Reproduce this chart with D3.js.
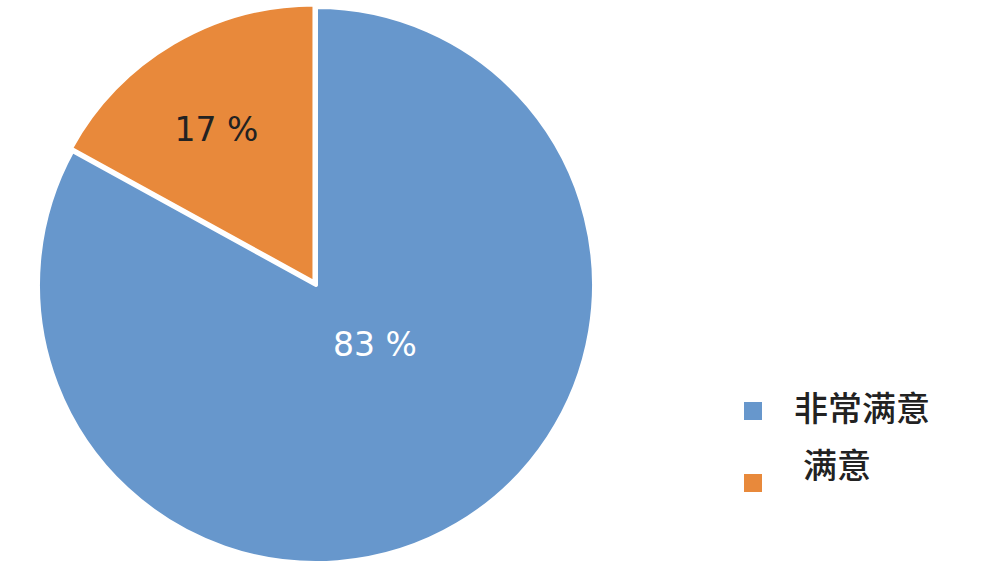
<!DOCTYPE html>
<html>
<head>
<meta charset="utf-8">
<script src="https://cdn.jsdelivr.net/npm/d3@7"></script>
<style>
    html, body { margin: 0; padding: 0; background: #fff; }
    svg { display: block; }
</style>
</head>
<body>
<div id="chart"></div>
<script>
// data
const categories = ["非常满意", "满意"];
const values = [83, 17];
const labels = ["83 %", "17 %"];
const colors = ["#6797CC", "#E8893B"];

const width = 994,
    height = 576;
const cx = 316,
    cy = 285,
    radius = 278;

let svg = d3.select("#chart")
    .append("svg")
    .attr("width", width)
    .attr("height", height);

let pie = d3.pie()
    .value(d => d.value)
    .sort(null);

let arcs = pie(categories.map((c, i) => ({ name: c, value: values[i], label: labels[i], color: colors[i] })));

let arc = d3.arc()
    .innerRadius(0)
    .outerRadius(radius);

let g = svg.append("g")
    .attr("transform", `translate(${cx},${cy})`);

// the small slice is pulled out a bit
function offset(d, dist) {
    let a = (d.startAngle + d.endAngle) / 2;
    return [Math.sin(a) * dist, -Math.cos(a) * dist];
}

g.selectAll(".slice")
    .data(arcs)
    .enter()
    .append("path")
    .attr("class", "slice")
    .attr("d", arc)
    .attr("transform", (d, i) => {
        let o = offset(d, i === 1 ? 3 : 0);
        return `translate(${o[0]},${o[1]})`;
    })
    .style("fill", d => d.data.color)
    .style("stroke", "#fff")
    .style("stroke-width", 4)
    .style("stroke-linejoin", "round");

// label placement: [radius factor, angle (deg) or null for mid angle]
const labelPos = [[0.3, 135], [0.665, 327.4]];

g.selectAll(".lbl")
    .data(arcs)
    .enter()
    .append("text")
    .attr("class", "lbl")
    .attr("transform", (d, i) => {
        let p = labelPos[i];
        let a = p[1] === null ? (d.startAngle + d.endAngle) / 2 : p[1] * Math.PI / 180;
        let r = radius * p[0];
        return `translate(${Math.sin(a) * r},${-Math.cos(a) * r})`;
    })
    .attr("text-anchor", "middle")
    .attr("dy", "0.36em")
    .style("font-family", "'DejaVu Sans', Verdana, sans-serif")
    .style("font-size", "33px")
    .style("fill", (d, i) => i === 0 ? "#fff" : "#222")
    .text(d => d.data.label);

// legend
let legend = svg.append("g")
    .attr("transform", "translate(744,0)");

const legendY = [402, 474];
const legendTextX = [50, 59];
const legendTextY = [409, 466];

let item = legend.selectAll(".leg")
    .data(categories)
    .enter()
    .append("g")
    .attr("class", "leg");

item.append("rect")
    .attr("x", 0)
    .attr("y", (d, i) => legendY[i])
    .attr("width", 18)
    .attr("height", 18)
    .style("fill", (d, i) => colors[i]);

item.append("text")
    .attr("x", (d, i) => legendTextX[i])
    .attr("y", (d, i) => legendTextY[i])
    .attr("dy", "0.36em")
    .style("font-family", "'Noto Sans CJK SC', sans-serif")
    .style("font-size", "34px")
    .style("font-weight", 500)
    .style("fill", "#222")
    .text(d => d);
</script>
</body>
</html>
